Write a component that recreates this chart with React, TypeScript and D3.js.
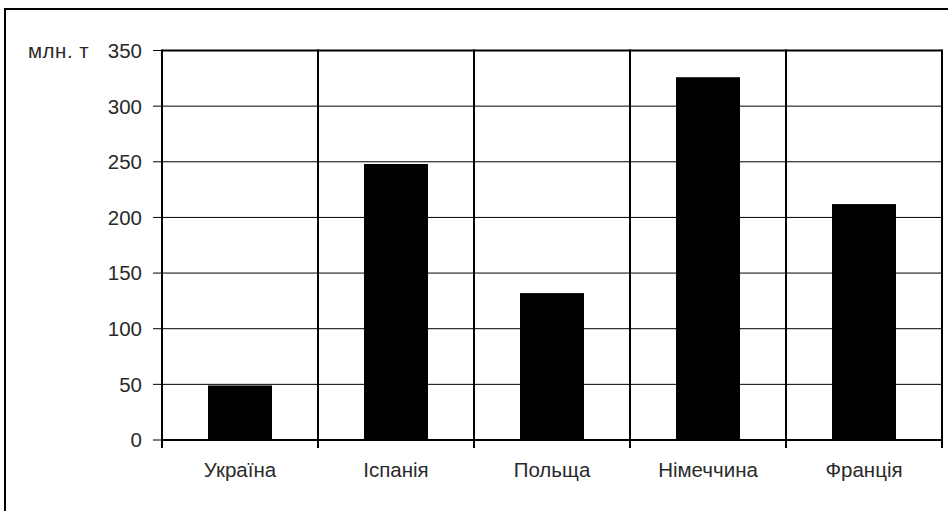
import React from "react";
import * as d3 from "d3";

const categories = ["Україна", "Іспанія", "Польща", "Німеччина", "Франція"];
const values = [49, 248, 132, 326, 212];
const yTicks = [0, 50, 100, 150, 200, 250, 300, 350];
const unitLabel = "млн. т";

export default function App() {
  const W = 948, H = 511;
  const left = 162, right = 942, top = 50.5, bottom = 440;
  const x = d3.scaleBand<string>().domain(categories).range([left, right]).paddingInner(0).paddingOuter(0);
  const y = d3.scaleLinear().domain([0, 350]).range([bottom, top]);
  const bw = x.bandwidth() * 0.41;
  const font = "'Liberation Sans', Arial, sans-serif";
  const fs = 20.5;
  const bounds = [...categories.map((c) => x(c)!), right];
  return (
    <svg width={W} height={H} style={{ position: "absolute", left: 0, top: 0, background: "#fff" }}>
      {/* outer frame */}
      <line x1={5} y1={9} x2={5} y2={H} stroke="#000" strokeWidth={2} />
      <line x1={4} y1={9} x2={W} y2={9} stroke="#000" strokeWidth={2} />
      {/* horizontal gridlines */}
      {yTicks.map((t) => (
        <line key={"g" + t} x1={left} x2={right} y1={y(t)} y2={y(t)} stroke="#000" strokeWidth={t === 350 ? 2 : 1} />
      ))}
      {/* bars */}
      {categories.map((c, i) => (
        <rect key={c} x={x(c)! + (x.bandwidth() - bw) / 2} y={y(values[i])} width={bw} height={bottom - y(values[i])} fill="#000" />
      ))}
      {/* vertical category dividers */}
      {bounds.map((b, i) => (
        <line key={"v" + i} x1={b} x2={b} y1={top - 1} y2={bottom + 8} stroke="#000" strokeWidth={2} />
      ))}
      {/* x axis */}
      <line x1={left} x2={right} y1={bottom} y2={bottom} stroke="#000" strokeWidth={2} />
      {/* y ticks */}
      {yTicks.map((t) => (
        <g key={"t" + t}>
          <line x1={left - 9} x2={left} y1={y(t)} y2={y(t)} stroke="#000" strokeWidth={1} />
          <text x={left - 20} y={y(t)} dy="0.36em" textAnchor="end" fontFamily={font} fontSize={fs} fill="#2a2a2a">{t}</text>
        </g>
      ))}
      <text x={28} y={y(350)} dy="0.36em" fontFamily={font} fontSize={fs} letterSpacing={0.5} fill="#2a2a2a">{unitLabel}</text>
      {/* category labels */}
      {categories.map((c) => (
        <text key={"l" + c} x={x(c)! + x.bandwidth() / 2} y={477} textAnchor="middle" fontFamily={font} fontSize={fs} fill="#2a2a2a">{c}</text>
      ))}
    </svg>
  );
}
